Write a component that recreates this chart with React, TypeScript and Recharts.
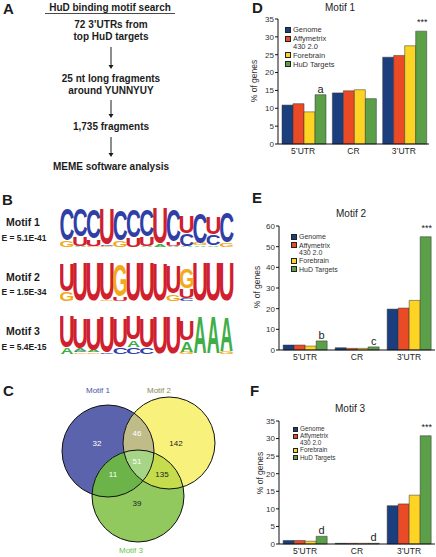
import React from 'react';
import { BarChart, Bar, XAxis, YAxis, Legend, LabelList } from 'recharts';

const FONT = '"Liberation Sans", Arial, Helvetica, sans-serif';
const INK = '#1c1c1c';

// ---- panel A: pipeline ----
const pipelineTitle = 'HuD binding motif search';
const pipelineSteps = [
  ['72 3\u2019UTRs from', 'top HuD targets'],
  ['25 nt long fragments', 'around YUNNYUY'],
  ['1,735 fragments'],
  ['MEME software analysis'],
];

// ---- panel B: sequence logos (bottom -> top, bits) ----
const motifNames = ['Motif 1', 'Motif 2', 'Motif 3'];
const motifEValues = ['E = 5.1E-41', 'E = 1.5E-34', 'E = 5.4E-15'];

const motif1Columns: [string, number][][] = [
  [['G', 0.3], ['C', 1.55]],
  [['A', 0.05], ['U', 0.45], ['C', 1.35]],
  [['G', 0.05], ['U', 0.35], ['C', 1.45]],
  [['G', 0.05], ['C', 0.08], ['U', 1.8]],
  [['G', 0.3], ['C', 1.5]],
  [['U', 0.45], ['C', 1.35]],
  [['A', 0.05], ['U', 0.45], ['C', 1.3]],
  [['A', 0.15], ['U', 1.75]],
  [['A', 0.05], ['U', 0.2], ['C', 1.55]],
  [['A', 0.05], ['C', 0.6], ['U', 0.85]],
  [['A', 0.08], ['G', 0.1], ['C', 1.5]],
  [['A', 0.08], ['C', 0.55], ['U', 0.85]],
  [['G', 0.2], ['C', 1.5]],
];

const motif2Columns: [string, number][][] = [
  [['G', 0.45], ['U', 1.35]],
  [['U', 1.9]],
  [['U', 1.9]],
  [['G', 0.05], ['U', 1.85]],
  [['U', 0.2], ['G', 1.55]],
  [['U', 1.9]],
  [['U', 1.9]],
  [['U', 1.85]],
  [['G', 0.35], ['U', 1.35]],
  [['C', 0.15], ['U', 0.45], ['G', 1.0]],
  [['U', 1.9]],
  [['U', 1.9]],
  [['U', 1.9]],
];

const motif3Columns: [string, number][][] = [
  [['A', 0.3], ['U', 1.55]],
  [['G', 0.08], ['C', 0.08], ['A', 0.1], ['U', 1.5]],
  [['G', 0.08], ['A', 0.1], ['U', 1.6]],
  [['C', 0.05], ['U', 1.8]],
  [['C', 0.3], ['U', 1.45]],
  [['C', 0.35], ['A', 0.35], ['U', 1.15]],
  [['C', 0.3], ['U', 1.45]],
  [['U', 1.85]],
  [['U', 1.85]],
  [['G', 0.1], ['A', 0.55], ['U', 1.0]],
  [['A', 1.85]],
  [['A', 1.85]],
  [['G', 0.1], ['A', 1.7]],
];

// ---- panel C: Venn ----
const vennNames = ['Motif 1', 'Motif 2', 'Motif 3'];
// only1, 1&2, only2, 1&3, all, 2&3, only3
const vennCounts = [32, 46, 142, 11, 51, 135, 39];

// ---- panels D-F: % of genes ----
const regions = ['5\u2019UTR', 'CR', '3\u2019UTR'];
const seriesNames = ['Genome', 'Affymetrix\n430 2.0', 'Forebrain', 'HuD Targets'];

const m1Genome = [10.9, 14.3, 24.3];
const m1Affy = [11.3, 14.9, 24.8];
const m1Fore = [9.0, 15.2, 27.5];
const m1HuD = [13.8, 12.7, 31.6];
const m1Marks = ['a', '', '***'];

const m2Genome = [2.4, 1.1, 19.8];
const m2Affy = [2.4, 0.8, 20.3];
const m2Fore = [1.9, 0.8, 24.0];
const m2HuD = [4.4, 1.5, 54.8];
const m2Marks = ['b', 'c', '***'];

const m3Genome = [1.0, 0.2, 10.9];
const m3Affy = [1.0, 0.2, 11.4];
const m3Fore = [0.8, 0.2, 13.9];
const m3HuD = [2.2, 0.2, 30.8];
const m3Marks = ['d', 'd', '***'];

const ticks35 = [0, 5, 10, 15, 20, 25, 30, 35];
const ticks60 = [0, 10, 20, 30, 40, 50, 60];

const SERIES_COLORS = ['#1b3f7e', '#eb4a26', '#fdd423', '#5b9f49'];
const BASE_COLORS: Record<string, string> = { A: '#3fae49', C: '#2f3fa6', G: '#f4a81c', U: '#d01f2e' };
const GLYPH_W: Record<string, number> = { A: 0.72, C: 0.63, G: 0.67, U: 0.58 };

const toLogoRows = (cols: [string, number][][]) =>
  cols.map((stack, i) => {
    const row: any = { pos: i + 1 };
    stack.forEach(([b, v], j) => {
      row[`b${j}`] = b;
      row[`v${j}`] = v;
    });
    return row;
  });

const letterShape = (layer: number) => (props: any) => {
  const { x, y, width, height, payload } = props;
  const base = payload?.[`b${layer}`];
  if (!base || !height || height <= 0) return <g />;
  const sx = width / (GLYPH_W[base] * 100);
  const sy = height / 73;
  return (
    <text
      transform={`translate(${x + width / 2},${y + height}) scale(${sx},${sy})`}
      x={0}
      y={-1.4}
      fontSize={100}
      fontWeight="bold"
      fontFamily={FONT}
      textAnchor="middle"
      fill={BASE_COLORS[base]}
    >
      {base}
    </text>
  );
};

// plot area is 173x41; extra svg room around it so glyph boxes are not clipped
const LOGO_PAD = 20;
const Logo = ({ cols, top }: { cols: [string, number][][]; top: number }) => (
  <div style={{ position: 'absolute', left: 60, top: top - LOGO_PAD }}>
    <BarChart
      width={173 + 8}
      height={41 + LOGO_PAD + 12}
      data={toLogoRows(cols)}
      margin={{ top: LOGO_PAD, right: 8, bottom: 12, left: 0 }}
      barCategoryGap="3%"
    >
      <XAxis dataKey="pos" hide />
      <YAxis domain={[0, 2]} hide />
      {[0, 1, 2, 3].map((j) => (
        <Bar key={j} dataKey={`v${j}`} stackId="logo" shape={letterShape(j)} isAnimationActive={false} />
      ))}
    </BarChart>
  </div>
);

const buildRows = (g: number[], a: number[], f: number[], h: number[], marks: string[]) =>
  regions.map((r, i) => ({ region: r, genome: g[i], affy: a[i], fore: f[i], hud: h[i], mark: marks[i] }));

const legendContent = (fontSize: number, box: number, gap: number) => ({ payload }: any) => {
  const items = [...(payload || [])].sort((p: any, q: any) => seriesNames.indexOf(p.value) - seriesNames.indexOf(q.value));
  return (
    <div style={{ fontFamily: FONT, fontSize, color: '#333', lineHeight: 1.0 }}>
      {items.map((item: any) => (
        <div key={item.value} style={{ display: 'flex', alignItems: 'flex-start', marginBottom: gap }}>
          <span
            style={{
              width: box,
              height: box,
              background: item.color,
              border: '0.5px solid #222',
              marginRight: 2,
              marginTop: 0.5,
              flexShrink: 0,
              boxSizing: 'border-box',
            }}
          />
          <span style={{ whiteSpace: 'pre-line' }}>{item.value}</span>
        </div>
      ))}
    </div>
  );
};

const markLabel = (props: any) => {
  const { x, y, width, value } = props;
  if (!value) return null;
  const stars = value === '***';
  return (
    <text x={x + width / 2 + (stars ? 1 : 0)} y={y - (stars ? 6 : 2)} textAnchor="middle" fontFamily={FONT} fontSize={stars ? 9 : 11} fill="#222">
      {value}
    </text>
  );
};

interface PctChartProps {
  rows: any[];
  left: number;
  top: number;
  height: number;
  margin: { top: number; right: number; bottom: number; left: number };
  yWidth: number;
  xHeight: number;
  domainMax: number;
  ticks: number[];
  legendPos: { left: number; top: number };
  legendFont: number;
  legendBox: number;
  legendGap: number;
}

const PctChart = ({ rows, left, top, height, margin, yWidth, xHeight, domainMax, ticks, legendPos, legendFont, legendBox, legendGap }: PctChartProps) => (
  <div style={{ position: 'absolute', left, top }}>
    <BarChart width={206} height={height} data={rows} margin={margin} barCategoryGap="8%" barGap={0}>
      <XAxis
        dataKey="region"
        height={xHeight}
        tickLine={false}
        tickSize={3}
        tickMargin={1}
        axisLine={{ stroke: '#111' }}
        tick={{ fontSize: 8.5, fill: '#222', fontFamily: FONT }}
        interval={0}
      />
      <YAxis
        width={yWidth}
        domain={[0, domainMax]}
        ticks={ticks}
        interval={0}
        tickSize={3}
        tickMargin={1}
        tickLine={{ stroke: '#111' }}
        axisLine={{ stroke: '#111' }}
        tick={{ fontSize: 8, fill: '#333', fontFamily: FONT }}
      />
      <Legend
        layout="horizontal"
        align="center"
        verticalAlign="middle"
        wrapperStyle={{ left: legendPos.left, top: legendPos.top, width: 100 }}
        content={legendContent(legendFont, legendBox, legendGap)}
      />
      <Bar dataKey="genome" name={seriesNames[0]} fill={SERIES_COLORS[0]} stroke="#333" strokeWidth={0.5} isAnimationActive={false} />
      <Bar dataKey="affy" name={seriesNames[1]} fill={SERIES_COLORS[1]} stroke="#333" strokeWidth={0.5} isAnimationActive={false} />
      <Bar dataKey="fore" name={seriesNames[2]} fill={SERIES_COLORS[2]} stroke="#333" strokeWidth={0.5} isAnimationActive={false} />
      <Bar dataKey="hud" name={seriesNames[3]} fill={SERIES_COLORS[3]} stroke="#333" strokeWidth={0.5} isAnimationActive={false}>
        <LabelList dataKey="mark" content={markLabel} />
      </Bar>
    </BarChart>
  </div>
);

// layout of static drawing
const vennCircles = [
  { cx: 108, cy: 451, fill: '#5c63ad' },
  { cx: 169, cy: 443, fill: '#f8f27c' },
  { cx: 138, cy: 496, fill: '#91c95e' },
];
const VENN_R = 46;
const vennCountPos = [
  [97, 443], [137, 433], [176, 443], [113, 474], [137, 461], [162, 474], [137, 503],
];
const vennCountColor = ['#fff', '#fff', '#222', '#fff', '#fff', '#222', '#222'];
const vennNamePos = [[98, 390], [159, 390], [131, 550]];
const vennNameColor = ['#4b52a8', '#8a8950', '#6cbf4a'];

const stepBaselines = [[28, 40], [82, 94], [130], [170]];
const arrows = [[47, 69], [100, 118], [137, 157]];

const panelLetter = (ch: string, x: number, y: number) => (
  <text x={x} y={y} fontFamily={FONT} fontWeight="bold" fontSize={15} fill={INK}>
    {ch}
  </text>
);

export default function App() {
  return (
    <div style={{ position: 'absolute', left: 0, top: 0, width: 436, height: 557, overflow: 'hidden', background: '#fff', fontFamily: FONT }}>
      <Logo cols={motif1Columns} top={206} />
      <Logo cols={motif2Columns} top={260} />
      <Logo cols={motif3Columns} top={313} />

      <PctChart
        rows={buildRows(m1Genome, m1Affy, m1Fore, m1HuD, m1Marks)}
        left={230}
        top={0}
        height={170}
        margin={{ top: 19, right: 7, bottom: 6, left: 0 }}
        yWidth={48}
        xHeight={20}
        domainMax={35}
        ticks={ticks35}
        legendPos={{ left: 55, top: 26 }}
        legendFont={7.5}
        legendBox={6}
        legendGap={1.5}
      />
      <PctChart
        rows={buildRows(m2Genome, m2Affy, m2Fore, m2HuD, m2Marks)}
        left={230}
        top={180}
        height={190}
        margin={{ top: 46, right: 1, bottom: 0, left: 0 }}
        yWidth={49}
        xHeight={20}
        domainMax={60}
        ticks={ticks60}
        legendPos={{ left: 61, top: 53 }}
        legendFont={7}
        legendBox={6}
        legendGap={1.5}
      />
      <PctChart
        rows={buildRows(m3Genome, m3Affy, m3Fore, m3HuD, m3Marks)}
        left={230}
        top={365}
        height={192}
        margin={{ top: 56, right: 1, bottom: 0, left: 0 }}
        yWidth={49}
        xHeight={13}
        domainMax={35}
        ticks={ticks35}
        legendPos={{ left: 63, top: 61 }}
        legendFont={6.4}
        legendBox={5}
        legendGap={1}
      />

      <svg width={436} height={557} style={{ position: 'absolute', left: 0, top: 0, pointerEvents: 'none' }}>
        <defs>
          {vennCircles.map((c, i) => (
            <clipPath key={i} id={`venn-clip-${i}`}>
              <circle cx={c.cx} cy={c.cy} r={VENN_R} />
            </clipPath>
          ))}
        </defs>

        {/* panel letters */}
        {panelLetter('A', 3, 14)}
        {panelLetter('B', 2, 205)}
        {panelLetter('C', 3, 396)}
        {panelLetter('D', 252, 13)}
        {panelLetter('E', 252, 203)}
        {panelLetter('F', 250, 396)}

        {/* panel A */}
        <text x={110} y={11} textAnchor="middle" fontFamily={FONT} fontWeight="bold" fontSize={10} fill={INK}>
          {pipelineTitle}
        </text>
        <line x1={45} x2={175} y1={13.5} y2={13.5} stroke={INK} strokeWidth={0.8} />
        {pipelineSteps.map((lines, i) =>
          lines.map((l, j) => (
            <text key={`${i}-${j}`} x={111} y={stepBaselines[i][j]} textAnchor="middle" fontFamily={FONT} fontWeight="bold" fontSize={10} fill={INK}>
              {l}
            </text>
          ))
        )}
        {arrows.map(([y1, y2], i) => (
          <g key={i}>
            <line x1={111} x2={111} y1={y1} y2={y2 - 3} stroke={INK} strokeWidth={1} />
            <polygon points={`${108.5},${y2 - 4} ${113.5},${y2 - 4} ${111},${y2}`} fill={INK} />
          </g>
        ))}

        {/* panel B labels */}
        {motifNames.map((m, i) => (
          <g key={m}>
            <text x={23} y={[226, 281, 335][i]} textAnchor="middle" fontFamily={FONT} fontWeight="bold" fontSize={10.5} fill={INK}>
              {m}
            </text>
            <text x={24} y={[241, 295, 350][i]} textAnchor="middle" fontFamily={FONT} fontWeight="bold" fontSize={8.5} fill={INK}>
              {motifEValues[i]}
            </text>
          </g>
        ))}

        {/* panel C venn */}
        {vennCircles.map((c, i) => (
          <circle key={i} cx={c.cx} cy={c.cy} r={VENN_R} fill={c.fill} />
        ))}
        <g clipPath="url(#venn-clip-0)">
          <circle cx={vennCircles[1].cx} cy={vennCircles[1].cy} r={VENN_R} fill="#c0bc8a" />
          <circle cx={vennCircles[2].cx} cy={vennCircles[2].cy} r={VENN_R} fill="#6cb449" />
        </g>
        <g clipPath="url(#venn-clip-1)">
          <circle cx={vennCircles[2].cx} cy={vennCircles[2].cy} r={VENN_R} fill="#c5dd4d" />
        </g>
        <g clipPath="url(#venn-clip-0)">
          <g clipPath="url(#venn-clip-1)">
            <circle cx={vennCircles[2].cx} cy={vennCircles[2].cy} r={VENN_R} fill="#a6d585" />
          </g>
        </g>
        {vennCircles.map((c, i) => (
          <circle key={`o${i}`} cx={c.cx} cy={c.cy} r={VENN_R} fill="none" stroke="#111" strokeWidth={1} />
        ))}
        {vennCounts.map((n, i) => (
          <text key={i} x={vennCountPos[i][0]} y={vennCountPos[i][1] + 3} textAnchor="middle" fontFamily={FONT} fontSize={8} fill={vennCountColor[i]}>
            {n}
          </text>
        ))}
        {vennNames.map((m, i) => (
          <text key={m} x={vennNamePos[i][0]} y={vennNamePos[i][1] + 3} textAnchor="middle" fontFamily={FONT} fontSize={8} fill={vennNameColor[i]}>
            {m}
          </text>
        ))}

        {/* chart titles and y labels */}
        {[['Motif 1', 340, 11], ['Motif 2', 351, 217], ['Motif 3', 350, 412]].map(([t, x, y]) => (
          <text key={t as string} x={x as number} y={y as number} textAnchor="middle" fontFamily={FONT} fontSize={10} fill="#222">
            {t}
          </text>
        ))}
        {[[255, 81], [258, 287], [261, 473]].map(([x, y], i) => (
          <text key={i} x={x} y={y} transform={`rotate(-90 ${x} ${y})`} textAnchor="middle" dominantBaseline="middle" fontFamily={FONT} fontSize={8.5} fill="#333">
            % of genes
          </text>
        ))}
      </svg>
    </div>
  );
}
